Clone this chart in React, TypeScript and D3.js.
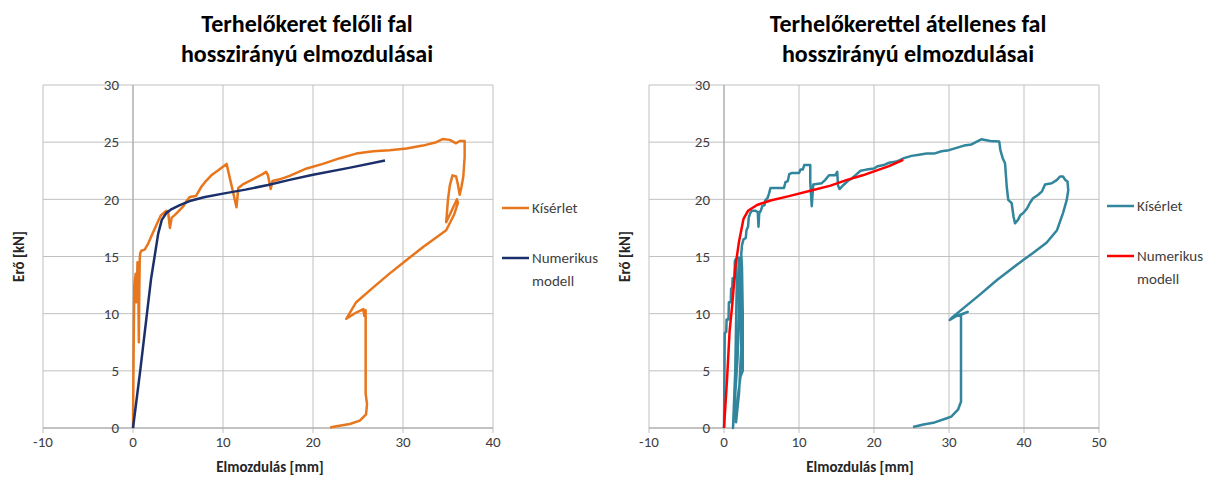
import React from "react";
import * as d3 from "d3";

// elmozdulás [mm], erő [kN]
const leftKiserlet: [number, number][] = [
  [0, 0], [0.05, 5], [0.1, 9.5], [0.15, 12.5], [0.3, 13.5], [0.35, 11], [0.45, 12.8],
  [0.5, 14.5], [0.6, 11.5], [0.65, 7.5], [0.7, 12], [0.75, 14.8], [0.8, 15.3], [0.93, 15.5],
  [1.3, 15.6], [1.67, 16.1], [2.0, 16.7], [2.4, 17.4], [2.8, 18.1], [3.1, 18.6], [3.7, 19.0],
  [3.9, 18.9], [4.1, 17.5], [4.3, 18.4], [4.6, 18.6], [5.0, 18.9], [5.6, 19.4], [5.9, 19.8],
  [6.3, 20.2], [7.0, 20.3], [7.6, 21.1], [8.1, 21.6], [8.7, 22.1], [9.4, 22.5], [10.4, 23.1],
  [11.5, 19.3], [11.7, 21.0], [12.2, 21.3], [13.3, 21.75], [14.4, 22.2], [14.8, 22.4],
  [15.0, 22.1], [15.3, 20.9], [15.5, 21.6], [16.3, 21.75], [17.4, 22.05], [19.3, 22.7],
  [21.1, 23.1], [23.0, 23.6], [24.8, 24.0], [26.7, 24.2], [28.5, 24.3], [30.4, 24.45],
  [32.2, 24.7], [33.7, 25.0], [34.4, 25.27], [35.2, 25.2], [35.9, 24.9], [36.3, 25.1],
  [36.85, 25.1], [36.85, 23.7], [36.7, 22.0], [36.5, 21.1], [36.3, 20.4], [36.1, 21.3],
  [35.9, 22.0], [35.5, 22.1], [35.2, 21.2], [35.0, 20.0], [34.8, 18.0], [35.4, 19.0],
  [36.0, 20.0], [36.1, 19.7], [35.7, 18.7], [34.8, 17.3], [32.2, 15.8], [30.4, 14.7],
  [28.5, 13.5], [26.7, 12.3], [24.8, 11.0], [23.7, 9.55], [24.8, 10.1],
  [25.6, 10.4], [25.7, 9.8], [25.85, 10.3], [25.85, 3.0], [26.0, 2.1], [25.9, 1.2],
  [25.2, 0.65], [24.1, 0.35], [22.6, 0.15], [21.9, 0.05],
];

const leftNumerikus: [number, number][] = [
  [0, 0], [0.8, 5], [1.55, 10], [2.0, 13], [2.4, 15], [2.8, 17], [3.2, 18.2], [3.7, 18.8],
  [4.3, 19.15], [5.2, 19.5], [6.3, 19.85], [8, 20.2], [10, 20.5], [12.5, 20.85], [15, 21.25],
  [17.4, 21.7], [20, 22.15], [24, 22.75], [28, 23.4],
];

const rightKiserlet: [number, number][] = [
  [0.0, 0.0], [0.1, 8.3], [0.3, 8.4], [0.35, 9.5], [0.6, 9.5], [0.65, 11], [0.9, 11],
  [0.95, 12.2], [1.1, 12.2], [1.15, 13.1], [1.4, 13.1], [1.45, 14.6], [1.6, 14.8],
  [1.7, 12.5], [1.5, 5], [1.2, 0], [1.4, 2], [1.8, 6], [2.0, 10], [2.0, 14.9], [2.2, 12],
  [2.3, 7], [2.0, 3], [1.6, 0.5], [1.7, 2], [2.2, 4.5], [2.5, 5], [2.5, 10], [2.4, 14],
  [2.3, 15.2], [2.4, 16], [2.6, 16.5], [2.9, 16.6], [3.0, 17.3], [3.2, 17.6], [3.3, 18.4],
  [3.5, 18.8], [3.7, 19], [4.2, 19.0], [4.5, 18.9], [4.6, 17.6], [4.7, 18.8], [4.9, 19],
  [5.1, 19.4], [5.4, 19.5], [5.5, 19.9], [5.8, 20.1], [6.0, 20.5], [6.2, 21.0], [8.0, 21.0],
  [8.2, 21.5], [8.5, 21.6], [8.7, 22.2], [9.0, 22.3], [10, 22.3], [10.2, 22.6], [10.5, 22.6],
  [10.7, 23.0], [11.5, 23.0], [11.5, 21.5], [11.7, 19.4], [11.9, 21.3], [13, 21.4],
  [13.5, 21.7], [14, 22.1], [14.8, 22.1], [15.1, 22.4], [15.2, 21.2], [15.4, 20.9],
  [16, 21.3], [16.5, 21.6], [17, 21.8], [17.5, 22.1], [18.2, 22.5], [19, 22.6], [20, 22.7],
  [20.5, 22.9], [21.3, 23.0], [22, 23.2], [23, 23.3], [24, 23.6], [25, 23.8], [26, 23.9],
  [27, 24.0], [28, 24.0], [29, 24.2], [30, 24.3], [31, 24.5], [32, 24.7], [33, 24.8],
  [34.3, 25.25], [35.5, 25.1], [36.7, 25.05], [36.85, 24.3], [37.16, 23.6], [37.47, 23.16],
  [37.7, 21.1], [37.9, 19.95], [38.36, 19.66], [38.6, 18.5], [38.8, 17.9], [39.2, 18.2],
  [39.5, 18.6], [39.9, 18.8], [40.4, 19.2], [40.8, 19.7], [41.2, 20.1], [41.9, 20.4],
  [42.4, 20.7], [42.8, 21.3], [43.7, 21.4], [44.4, 21.7], [44.8, 22.0], [45.2, 22.0],
  [45.5, 21.7], [45.8, 21.55], [45.9, 20.8], [45.7, 19.95], [45.2, 18.8], [44.4, 17.3],
  [43.0, 16.2], [41.2, 15.3], [39.9, 14.7], [38.1, 13.8], [36.4, 12.95], [34.0, 11.6],
  [31.4, 10.2], [30.3, 9.6], [30.1, 9.45], [31.0, 9.8], [32.5, 10.15], [31.6, 9.9],
  [31.6, 2.3], [31.2, 1.6], [30.3, 1.0], [29.7, 0.85], [27.9, 0.45], [26.6, 0.3], [25.2, 0.08],
];

const rightNumerikus: [number, number][] = [
  [0, 0], [0.4, 4.2], [0.75, 8.5], [1.1, 10.8], [1.5, 14.0], [2.0, 16.3], [2.6, 18.3],
  [3.2, 19.0], [4.4, 19.5], [6.2, 19.9], [8.8, 20.3], [11.5, 20.75], [14.2, 21.2],
  [16.4, 21.7], [18.5, 22.1], [20, 22.45], [22, 22.9], [23.9, 23.45],
];

const yTicks = [0, 5, 10, 15, 20, 25, 30];
const leftXTicks = [-10, 0, 10, 20, 30, 40];
const rightXTicks = [-10, 0, 10, 20, 30, 40, 50];
const legendNames = ["Kísérlet", "Numerikus", "modell"];

const FONT = "Calibri, Carlito, Lato, 'Liberation Sans', Arial, sans-serif";

type ChartProps = {
  title: string[];
  titleX: number;
  x0: number;
  x1: number;
  xTicks: number[];
  exp: [number, number][];
  num: [number, number][];
  expColor: string;
  numColor: string;
  yTitleX: number;
  xTitleX: number;
  legendX: number;
  legendY: number;
};

function Chart(p: ChartProps) {
  const x = d3.scaleLinear().domain([p.xTicks[0], p.xTicks[p.xTicks.length - 1]]).range([p.x0, p.x1]);
  const y = d3.scaleLinear().domain([0, 30]).range([428, 85]);
  const line = d3
    .line<[number, number]>()
    .x((d) => x(d[0]))
    .y((d) => y(d[1]));

  return (
    <g fontFamily={FONT}>
      {p.title.map((t, i) => (
        <text key={t} x={p.titleX} y={32 + i * 30} textAnchor="middle" fontSize={24} fontWeight="bold" fill="#000">
          {t}
        </text>
      ))}
      {yTicks.map((t) => (
        <line key={"h" + t} x1={p.x0} x2={p.x1} y1={y(t)} y2={y(t)} stroke="#c0c0c0" strokeWidth={1} />
      ))}
      {p.xTicks.map((t) => (
        <line key={"v" + t} x1={x(t)} x2={x(t)} y1={y(30)} y2={y(0) + 5} stroke="#c0c0c0" strokeWidth={1} />
      ))}
      <line x1={x(0)} x2={x(0)} y1={y(30)} y2={y(0)} stroke="#a6a6a6" />
      <line x1={p.x0} x2={p.x1} y1={y(0)} y2={y(0)} stroke="#a6a6a6" />
      {yTicks.map((t) => (
        <text key={"yl" + t} x={x(0) - 14} y={y(t)} dy="0.35em" textAnchor="end" fontSize={15} fill="#404040">
          {t}
        </text>
      ))}
      {p.xTicks.map((t) => (
        <text key={"xl" + t} x={x(t)} y={y(0) + 19} textAnchor="middle" fontSize={15} fill="#404040">
          {t}
        </text>
      ))}
      <path d={line(p.exp) ?? ""} fill="none" stroke={p.expColor} strokeWidth={2.5} strokeLinejoin="round" />
      <path d={line(p.num) ?? ""} fill="none" stroke={p.numColor} strokeWidth={2.5} strokeLinejoin="round" />
      <text x={p.xTitleX} y={472} textAnchor="middle" fontSize={15} fontWeight="bold" fill="#262626">
        Elmozdulás [mm]
      </text>
      <text
        transform={`translate(${p.yTitleX},${(y(0) + y(30)) / 2}) rotate(-90)`}
        textAnchor="middle"
        dy="0.35em"
        fontSize={15}
        fontWeight="bold"
        fill="#262626"
      >
        Erő [kN]
      </text>
      <line x1={p.legendX} x2={p.legendX + 27} y1={p.legendY} y2={p.legendY} stroke={p.expColor} strokeWidth={2.5} />
      <text x={p.legendX + 30} y={p.legendY} dy="0.35em" fontSize={15} fill="#404040">
        {legendNames[0]}
      </text>
      <line x1={p.legendX} x2={p.legendX + 27} y1={p.legendY + 50} y2={p.legendY + 50} stroke={p.numColor} strokeWidth={2.5} />
      <text x={p.legendX + 30} y={p.legendY + 50} dy="0.35em" fontSize={15} fill="#404040">
        {legendNames[1]}
      </text>
      <text x={p.legendX + 30} y={p.legendY + 73} dy="0.35em" fontSize={15} fill="#404040">
        {legendNames[2]}
      </text>
    </g>
  );
}

export default function App() {
  return (
    <svg width={1221} height={484} style={{ position: "absolute", left: 0, top: 0, background: "#fff" }}>
      <Chart
        title={["Terhelőkeret felőli fal", "hosszirányú elmozdulásai"]}
        titleX={307}
        x0={43}
        x1={493}
        xTicks={leftXTicks}
        exp={leftKiserlet}
        num={leftNumerikus}
        expColor="#e8761c"
        numColor="#1b2f6b"
        yTitleX={19}
        xTitleX={270}
        legendX={502}
        legendY={208}
      />
      <Chart
        title={["Terhelőkerettel átellenes fal", "hosszirányú elmozdulásai"]}
        titleX={908}
        x0={649}
        x1={1099}
        xTicks={rightXTicks}
        exp={rightKiserlet}
        num={rightNumerikus}
        expColor="#31859c"
        numColor="#ff0000"
        yTitleX={625}
        xTitleX={860}
        legendX={1107}
        legendY={206}
      />
    </svg>
  );
}
